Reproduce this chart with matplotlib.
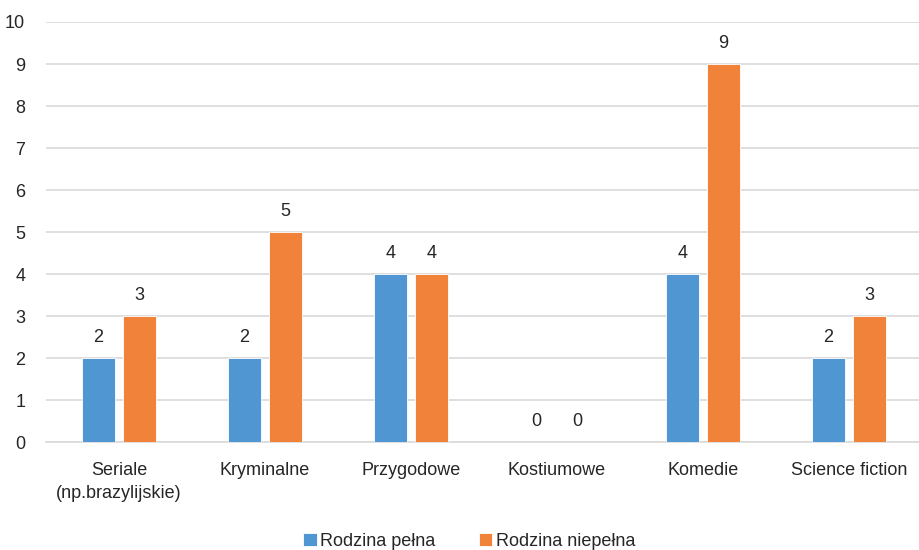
import matplotlib
matplotlib.use("Agg")
import matplotlib.pyplot as plt
import numpy as np
from matplotlib import font_manager

categories = ["Seriale\n(np.brazylijskie)", "Kryminalne", "Przygodowe", "Kostiumowe", "Komedie", "Science fiction"]
pelna = [2, 2, 4, 0, 4, 2]
niepelna = [3, 5, 4, 0, 9, 3]
series_names = ["Rodzina pełna", "Rodzina niepełna"]
yticks = list(range(0, 11))

names = {f.name for f in font_manager.fontManager.ttflist}
fam = "Liberation Sans Narrow" if "Liberation Sans Narrow" in names else "Liberation Sans"
plt.rcParams['font.family'] = [fam, 'DejaVu Sans']

blue = "#4F96D2"
orange = "#F0823A"

fig = plt.figure(figsize=(9.2, 5.5), dpi=100)
ax = fig.add_axes([0.05, 0.196, 0.952, 0.764])

x = np.arange(len(categories))
w = 0.225
off = 0.14
b1 = ax.bar(x - off, pelna, w, color=blue, edgecolor="white", linewidth=0.6, label=series_names[0], zorder=3)
b2 = ax.bar(x + off, niepelna, w, color=orange, edgecolor="white", linewidth=0.6, label=series_names[1], zorder=3)

fs = 13
for bars, vals in ((b1, pelna), (b2, niepelna)):
    for r, v in zip(bars, vals):
        ax.annotate(str(v), (r.get_x() + r.get_width() / 2, v), xytext=(0, 9),
                    textcoords="offset points", ha="center", va="bottom", fontsize=fs, color="#262626")

ax.set_xlim(-0.5, len(categories) - 0.5)
ax.set_ylim(0, 10)
ax.set_yticks(yticks)
ax.set_xticks(x)
ax.set_xticklabels(categories, fontsize=fs, color="#262626", linespacing=1.5)
ax.tick_params(axis='y', labelsize=fs, colors="#262626", length=0, pad=15)
ax.tick_params(axis='x', length=0, pad=14)
ax.grid(axis='y', color="#D9D9D9", linewidth=1.2, zorder=0)
for s in ("top", "right", "left"):
    ax.spines[s].set_visible(False)
ax.spines["bottom"].set_color("#D9D9D9")
ax.spines["bottom"].set_linewidth(1.2)

leg = fig.legend(handles=[b1, b2], labels=series_names, loc="center", bbox_to_anchor=(0.51, 0.016),
                 ncol=2, frameon=False, fontsize=fs, handlelength=0.75, handleheight=0.75,
                 columnspacing=2.4, handletextpad=0.2)
for t in leg.get_texts():
    t.set_color("#262626")

fig.savefig("out.png", dpi=100)
